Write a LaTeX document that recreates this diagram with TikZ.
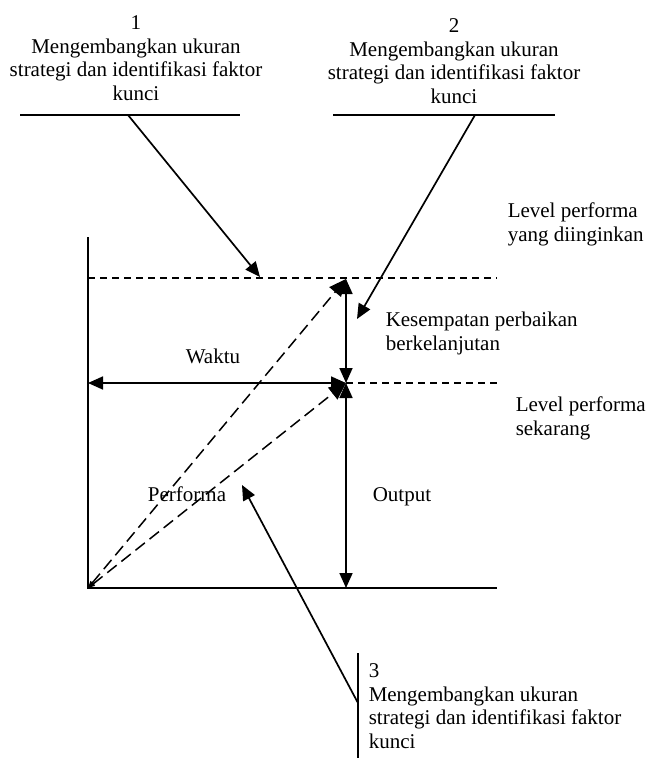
\documentclass[tikz,border=0pt]{standalone}
\usepackage{fontspec}
\setmainfont{Liberation Serif}
\usetikzlibrary{arrows.meta}

\begin{document}
\begin{tikzpicture}[x=1pt,y=1pt,yscale=-1,xscale=1,
  line width=1.5pt,
  tip/.style={-{Triangle[length=15pt,width=13pt]},line width=1.7pt},
  twotip/.style={{Triangle[length=15pt,width=13pt]}-{Triangle[length=15pt,width=13pt]},line width=1.7pt},
  lbl/.style={inner sep=0pt,font=\fontsize{21}{23.5}\selectfont},
  guide/.style={dash pattern=on 7pt off 5pt,line width=1.4pt},
  slope/.style={dash pattern=on 12pt off 6pt,line width=1.5pt,{Triangle[length=7pt,width=5pt]}-{Triangle[length=17pt,width=15pt]}}]
\useasboundingbox (0,0) rectangle (649,758);

% Points of the graph
\coordinate (O) at (88,588);
\coordinate (ytop) at (88,237);
\coordinate (xend) at (497,588);
\coordinate (des) at (346,279);
\coordinate (cur) at (346,383);
\coordinate (bot) at (346,588);
\coordinate (desl) at (88,278);
\coordinate (desr) at (497,278);
\coordinate (curr) at (497,383);

% Axes
\draw (ytop) -- (O) -- (xend);
% Dashed levels
\draw [guide] (desl) -- (desr);
\draw [guide] (cur) -- (curr);
% Dashed slopes
\draw [slope] (O) -- (des);
\draw [slope] (O) -- (cur);
% Arrows of the graph
\draw [twotip] (des) -- (cur);
\draw [twotip] (cur) -- (bot);
\draw [twotip] (O |- cur) -- (cur);

% Text Node
\node [lbl,align=center,anchor=north] (step1) at (136,15) {1\\Mengembangkan ukuran\\strategi dan identifikasi faktor\\kunci};
\draw (20,115) coordinate (bar1l) -- (240,115) coordinate (bar1r);
\coordinate (j1) at (128,115);
\coordinate (p1) at (260,277);
\draw [tip] (j1) -- (p1);

% Text Node
\node [lbl,align=center,anchor=north] (step2) at (454,18) {2\\Mengembangkan ukuran\\strategi dan identifikasi faktor\\kunci};
\draw (333,115) coordinate (bar2l) -- (555,115) coordinate (bar2r);
\coordinate (j2) at (475,115);
\coordinate (p2) at (357,319);
\draw [tip] (j2) -- (p2);

% Text Node
\node [lbl,align=left,anchor=north west] (step3) at (368,663) {3\\Mengembangkan ukuran\\strategi dan identifikasi faktor\\kunci};
\draw (358,653) coordinate (bar3t) -- (358,758) coordinate (bar3b);
\coordinate (j3) at (358,703);
\coordinate (p3) at (242,485);
\draw [tip] (j3) -- (p3);

% Labels (base = last line)
\node [lbl,align=left,anchor=base west] (lvldes) at (507,241) {Level performa\\yang diinginkan};
\node [lbl,align=left,anchor=base west] (gap) at (385,350) {Kesempatan perbaikan\\berkelanjutan};
\node [lbl,anchor=base] (waktu) at (213,363) {Waktu};
\node [lbl,align=left,anchor=base west] (lvlcur) at (515,435) {Level performa\\sekarang};
\node [lbl,anchor=base] (perf) at (187,501) {Performa};
\node [lbl,anchor=base] (out) at (402,501) {Output};

\end{tikzpicture}
\end{document}
